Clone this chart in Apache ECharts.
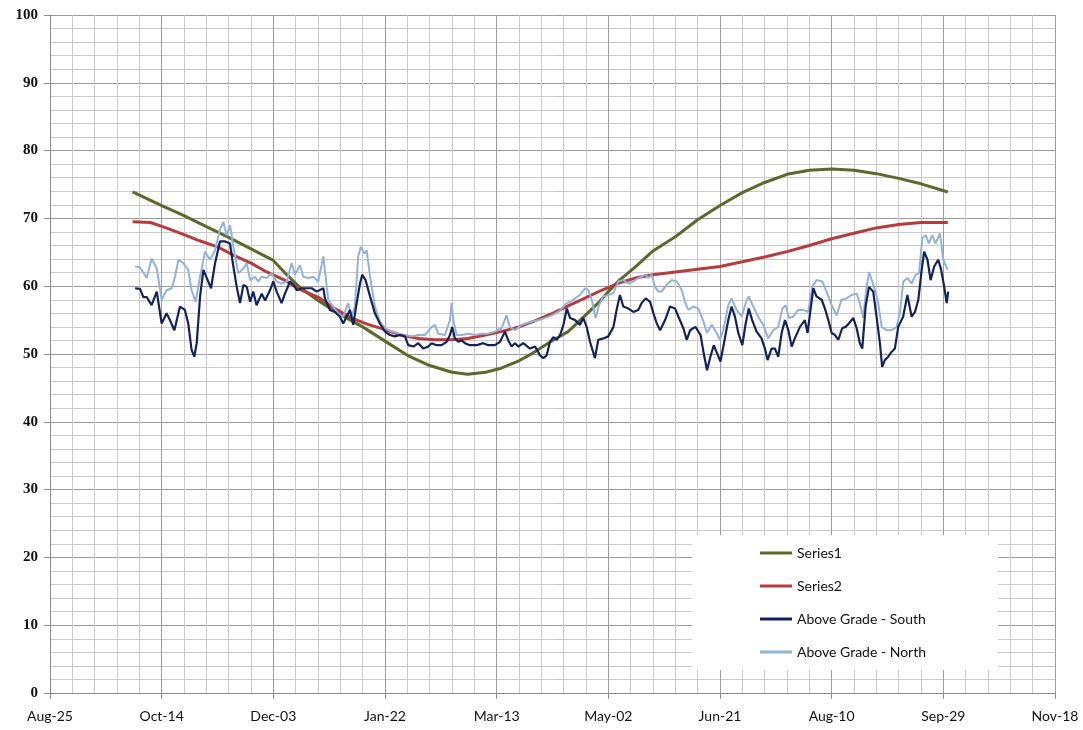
<!DOCTYPE html>
<html>
<head>
  <meta charset="utf-8">
  <script src="https://cdn.jsdelivr.net/npm/echarts@6/dist/echarts.min.js"></script>
  <style>
    html, body { margin: 0; padding: 0; background: #fff; }
    #chart { width: 1083px; height: 730px; }
  </style>
</head>
<body>
  <div id="chart"></div>
  <script>
    // x values are days counted from Aug-25
    var xTicks = ['Aug-25', 'Oct-14', 'Dec-03', 'Jan-22', 'Mar-13', 'May-02', 'Jun-21', 'Aug-10', 'Sep-29', 'Nov-18'];
    var seriesNames = ['Series1', 'Series2', 'Above Grade - South', 'Above Grade - North'];

    var s1Days = [37, 50, 60, 70, 80, 90, 100, 106, 112, 120, 130, 140, 150, 160, 170, 180, 187, 195, 202, 210, 216, 225, 232, 240, 246, 250, 255, 262, 270, 280, 290, 300, 310, 320, 330, 340, 350, 360, 370, 380, 390, 402];
    var s1Vals = [73.9, 71.9, 70.4, 68.8, 67.2, 65.5, 63.8, 61.7, 59.8, 57.9, 55.8, 54.0, 51.9, 49.8, 48.3, 47.3, 47.0, 47.3, 47.9, 49.0, 50.1, 52.0, 53.3, 55.8, 57.7, 59.2, 60.9, 62.8, 65.2, 67.3, 69.8, 71.9, 73.8, 75.3, 76.5, 77.1, 77.3, 77.1, 76.6, 75.9, 75.1, 73.9];

    var s2Days = [37, 45, 52, 60, 67, 75, 82, 90, 97, 105, 112, 120, 127, 135, 142, 150, 157, 165, 172, 180, 187, 195, 202, 210, 217, 225, 232, 240, 247, 255, 262, 270, 280, 290, 300, 310, 320, 330, 340, 350, 360, 370, 380, 390, 402];
    var s2Vals = [69.5, 69.4, 68.6, 67.6, 66.7, 65.8, 64.6, 63.4, 62.1, 60.9, 59.5, 58.4, 56.8, 55.3, 54.4, 53.6, 52.8, 52.3, 52.1, 52.1, 52.3, 52.8, 53.3, 54.0, 54.9, 56.0, 57.1, 58.3, 59.4, 60.5, 61.2, 61.7, 62.1, 62.5, 62.9, 63.6, 64.3, 65.1, 66.0, 67.0, 67.8, 68.6, 69.1, 69.4, 69.4];

    var southDays = [38.1, 40.3, 41.8, 43.3, 45.5, 47.8, 50, 52.2, 53.7, 55.7, 58.2, 60.4, 61.9, 63.4, 64.6, 65.7, 67.2, 68.7, 70.6, 72.1, 73.9, 76.1, 78.4, 80.6, 82.1, 83.6, 85.1, 86.6, 88.1, 89.6, 91.0, 92.5, 94.8, 96.3, 98.5, 100, 101.5, 103.7, 105.2, 107.5, 109, 110.5, 112.7, 115, 117.2, 119.4, 122.4,
      123.1, 125.3, 127.6, 129.8, 131.3, 132.8, 134.3, 135.8, 137.3, 138.8, 139.8, 141.3, 143.3, 145.5, 147.7, 150, 152.2, 154.4, 156.7, 158.9, 160.4, 162.7, 164.9, 167.1, 169.4, 170.9, 173.1, 175.3, 177.6, 179.1, 180.1, 181.3, 182.8, 184.3, 185.8, 188, 191, 194, 196.2, 199.2, 201.5, 203.7, 205.2, 206.7, 208.2, 209.7, 211.9,
      214.9, 217.2, 219.4, 220.9, 222.4, 223.9, 225.4, 226.9, 228.4, 229.9, 231.4, 232.9, 235.1, 237.3, 238.8, 240.3, 241.8, 244, 245.5, 247.8, 250, 252.3, 253.7, 255.2, 256.7, 259, 261.2, 263.4, 264.9, 266.7, 268.7, 270.2, 271.7, 273.2, 275.4, 277.6, 279.9, 281.4, 283.6, 285.1, 286.6, 289, 291.3, 292.7, 294.2, 295.7, 297.2, 298.7, 300.2, 301.5,
      303.7, 305.2, 306.7, 308.2, 310, 311.5, 312.9, 314.4, 316.4, 318.6, 320.1, 321.3, 323.1, 324.6, 326.1, 327.6, 329.1, 330.6, 332.1, 333.5, 335.8, 338, 339.2, 340.7, 341.8, 343.2, 345.5, 347, 348.5, 350, 351.5, 353, 354.7, 356.2, 357.7, 359.7, 361.2, 362.6, 363.7, 365.2, 366.7, 368.6, 370.1, 371.6, 372.6, 373.8, 375.3, 376.8, 378.3, 379.8, 382, 383.9, 385.8, 387.3, 388.8, 390.3, 391.4, 392.9, 394.3, 395.9, 397.7, 398.9, 400.4, 401.5, 402.2];
    var southVals = [59.7, 59.6, 58.4, 58.4, 57.2, 59.2, 54.5, 56, 55, 53.5, 57, 56.5, 54.5, 50.6, 49.6, 51.6, 58.5, 62.4, 60.9, 59.7, 63.4, 66.6, 66.6, 66.3, 62.9, 59.9, 57.5, 60.2, 59.9, 57.7, 59.2, 57.2, 58.9, 57.9, 59.4, 60.7, 59.2, 57.5, 58.9, 60.7, 60.2, 59.4, 59.7, 59.7, 59.7, 59.2, 59.7,
      58.2, 56.5, 56.2, 55.5, 54.5, 55.5, 56.5, 54.3, 57.5, 60.4, 61.7, 60.9, 58.5, 56, 54.5, 53.3, 52.8, 52.6, 52.8, 52.6, 51.3, 51.1, 51.6, 50.8, 51.1, 51.6, 51.3, 51.3, 51.8, 52.8, 54, 52.3, 51.8, 52, 51.6, 51.3, 51.3, 51.6, 51.3, 51.3, 51.8, 53.3, 52, 51.1, 51.6, 51.1, 51.6,
      50.8, 51.1, 49.8, 49.4, 49.8, 51.8, 52.5, 52.1, 52.8, 54.3, 56.7, 55.3, 55, 54.3, 55.3, 54, 51.8, 49.4, 52.1, 52.3, 52.6, 54, 56.5, 58.7, 57, 56.7, 56.2, 56.5, 57.5, 58.2, 57.7, 56, 54.5, 53.5, 55, 57, 56.7, 55.5, 53.8, 52.1, 53.5, 54, 52.8, 50.1, 47.6, 49.6, 51.3, 50.1, 48.9, 51.1,
      55, 57, 55.5, 53.1, 51.3, 54.5, 56.7, 55, 53.3, 52.3, 50.8, 49.1, 50.8, 50.8, 49.6, 53.1, 55, 53.5, 51.1, 52.3, 54, 55, 53.1, 57, 59.7, 58.5, 58, 56.7, 55, 53.1, 52.8, 52.1, 53.8, 54, 54.5, 55.3, 53.8, 51.6, 50.8, 57, 59.9, 59.2, 55.5, 51.6, 48.1, 49.1, 49.6, 50.3, 50.8, 54, 55.5, 58.7, 55.5, 56.2, 58, 62.4, 65.1, 63.9, 60.9, 62.9, 63.9, 62.6, 59.9, 57.5, 59.2];

    var northDays = [38.1, 40.3, 43.3, 45.5, 47.8, 50, 52.2, 54.5, 56, 57.5, 59.7, 61.9, 63.4, 65.2, 67.2, 69.4, 71.6, 73.9, 76.1, 77.6, 79.1, 80.6, 82.1, 84.3, 86.6, 88.1, 89.6, 91.8, 93.3, 94.8, 97, 99.2, 101.5, 103.7, 106, 108.2, 109.7, 111.9, 113.4, 115.7, 117.9, 120.1, 122.4,
      124.6, 126.8, 129.1, 131.3, 133.5, 135, 136.5, 138, 139.2, 140.7, 141.8, 143.3, 145.5, 147.7, 150, 153, 155.9, 158.9, 161.9, 164.9, 167.9, 170.9, 172.4, 173.8, 176.8, 179.1, 179.8, 180.6, 182.1, 184.3, 187.3, 190.3, 193.3, 196.2, 199.2, 202.2, 204.4, 205.9, 208.2, 211.2,
      215.7, 218.7, 221.7, 224.6, 227.6, 229.9, 231.4, 232.9, 235.1, 237.3, 239.6, 241.1, 242.6, 244.3, 245.8, 247.8, 250, 252.3, 254.5, 256.7, 259, 261.2, 263.4, 264.9, 266.7, 267.9, 269.4, 270.9, 272.4, 273.9, 276.1, 278.4, 280.6, 282.9, 284.3, 285.8, 288.1, 290.3, 292.6, 294.1, 296.3, 298.5, 300, 301.5,
      303.7, 305.2, 307.4, 309.7, 311.5, 312.9, 314.9, 317.1, 319.4, 321.6, 323.8, 326.1, 327.9, 329.4, 330.9, 332.8, 335, 337.3, 339.5, 341.3, 343.2, 345.8, 347.7, 350, 352.2, 354.4, 356.7, 358.9, 361.2, 362.6, 364.1, 365.6, 366.8, 368.6, 370.6, 372.4, 374.6, 376.8, 379.1, 380.6, 382.1, 384, 385.8, 387.6, 389.1, 390.6, 392.2, 393.5, 395, 396.5, 398.5, 400, 401.9];
    var northVals = [62.9, 62.8, 61.2, 64.1, 62.6, 58, 59.4, 59.7, 61.4, 63.9, 63.4, 62.4, 59.4, 57.7, 61.4, 65.1, 63.9, 65.3, 68.3, 69.5, 67.5, 69, 65.8, 61.9, 62.6, 63.4, 60.9, 61.4, 60.7, 61.4, 61.2, 61.9, 60.7, 60.4, 60.7, 63.4, 61.7, 63.1, 61.4, 61.2, 61.4, 60.7, 64.4,
      58, 57, 56, 55.5, 57.5, 55.5, 57, 64.4, 65.8, 64.8, 65.3, 61.4, 57, 54.8, 53.8, 53.3, 53, 52.8, 52.6, 52.8, 52.8, 54, 54.3, 53, 52.8, 55, 57.5, 55, 52.8, 52.8, 53, 52.8, 53, 53, 53.3, 53.8, 55.7, 54, 53.5, 54.3,
      54.8, 55, 55.3, 55.7, 56.2, 57, 57.5, 57.7, 58.2, 58.7, 59.7, 59.4, 58, 55.3, 57.2, 58.5, 58.7, 59, 60.7, 60.9, 60.4, 60.7, 61.2, 61.4, 61.7, 61.2, 61.7, 59.9, 59.2, 59.2, 60.2, 60.9, 60.7, 59.4, 57.7, 56.5, 57, 56.7, 54.8, 53.1, 54.3, 53.1, 52.1, 53.5,
      57.2, 58.2, 56.5, 55.5, 57.5, 58.5, 57, 55.5, 54.3, 52.3, 53.5, 54, 56.7, 57.2, 55.3, 55.5, 56.5, 56.5, 56.2, 59.9, 60.9, 60.7, 59.2, 57.2, 55.7, 58, 58.2, 58.7, 58.9, 57.5, 55.3, 59.9, 62.1, 60.2, 58, 54, 53.5, 53.5, 54, 56.2, 60.7, 61.2, 60.4, 61.7, 61.9, 67.1, 67.5, 66.3, 67.5, 66.3, 67.8, 63.9, 62.4];

    function pairs(days, vals) {
      return days.map(function (d, i) { return [d, vals[i]]; });
    }

    var chart = echarts.init(document.getElementById('chart'));

    var lineSeries = function (name, days, vals, color, width) {
      return {
        name: name,
        type: 'line',
        symbol: 'none',
        data: pairs(days, vals),
        lineStyle: { color: color, width: width },
        itemStyle: { color: color }
      };
    };

    var option = {
      animation: false,
      grid: { left: 50, right: 28, top: 15, bottom: 37 },
      legend: {
        orient: 'vertical',
        left: 692,
        top: 535,
        backgroundColor: '#ffffff',
        padding: [10, 72, 10, 68],
        icon: 'rect',
        itemGap: 17,
        itemWidth: 32,
        itemHeight: 3,
        data: seriesNames,
        textStyle: { fontFamily: 'Lato', fontSize: 14, color: '#111', lineHeight: 16 }
      },
      xAxis: {
        type: 'value',
        min: 0,
        max: 450,
        interval: 50,
        axisLine: { show: true, lineStyle: { color: '#8a8a8a' } },
        axisTick: { show: true, length: 6, lineStyle: { color: '#8a8a8a' } },
        axisLabel: {
          margin: 16,
          fontFamily: 'Lato',
          fontSize: 14,
          color: '#111',
          formatter: function (v) { return xTicks[Math.round(v / 50)]; }
        },
        splitLine: { show: true, lineStyle: { color: '#9a9a9a', width: 1 } },
        minorSplitLine: { show: true, lineStyle: { color: '#cacaca', width: 1 } },
        minorTick: { show: false, splitNumber: 5 }
      },
      yAxis: {
        type: 'value',
        min: 0,
        max: 100,
        interval: 10,
        axisLine: { show: true, lineStyle: { color: '#8a8a8a' } },
        axisTick: { show: true, length: 6, lineStyle: { color: '#8a8a8a' } },
        axisLabel: {
          margin: 12,
          fontFamily: 'Liberation Serif',
          fontWeight: 'bold',
          fontSize: 15,
          color: '#111'
        },
        splitLine: { show: true, lineStyle: { color: '#9a9a9a', width: 1 } },
        minorSplitLine: { show: true, lineStyle: { color: '#cacaca', width: 1 } },
        minorTick: { show: false, splitNumber: 5 }
      },
      series: [
        lineSeries(seriesNames[0], s1Days, s1Vals, '#5b6a2a', 3),
        lineSeries(seriesNames[1], s2Days, s2Vals, '#b73a3c', 3),
        lineSeries(seriesNames[3], northDays, northVals, '#93b2da', 2),
        lineSeries(seriesNames[2], southDays, southVals, '#13235a', 2.2)
      ]
    };

    chart.setOption(option);
  </script>
</body>
</html>
